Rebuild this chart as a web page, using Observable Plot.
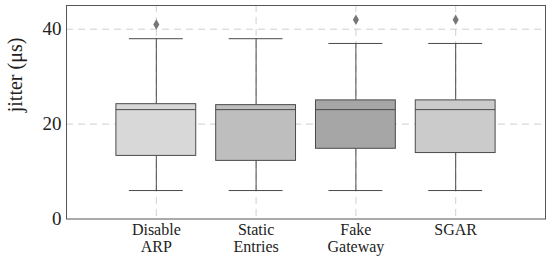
<!DOCTYPE html>
<html>
<head>
<meta charset="utf-8">
<script src="https://cdn.jsdelivr.net/npm/d3@7"></script>
<script src="https://cdn.jsdelivr.net/npm/@observablehq/plot@0.6"></script>
<style>
  html, body { margin: 0; padding: 0; background: #fff; }
  #chart svg { display: block; }
  #chart svg text { font-family: "Liberation Serif", "Times New Roman", serif; }
</style>
</head>
<body>
<div id="chart"></div>
<script>
const categories = ["Disable\nARP", "Static\nEntries", "Fake\nGateway", "SGAR"];
const positions = [1, 2, 3, 4];
const lowerWhisker = [6, 6, 6, 6];
const q1 = [13.3, 12.25, 14.8, 13.9];
const median = [23.05, 23.05, 23.05, 23.05];
const q3 = [24.2, 24.0, 25.0, 25.0];
const upperWhisker = [38, 38, 37, 37];
const outliers = [[41], [], [42], [42]];
const fills = ["#d8d8d8", "#bebebe", "#a6a6a6", "#cbcbcb"];
const yTicks = [0, 20, 40];

const boxes = positions.map((p, i) => ({
  pos: p, lo: lowerWhisker[i], q1: q1[i], med: median[i], q3: q3[i], hi: upperWhisker[i], fill: fills[i]
}));
const outs = positions.flatMap((p, i) => outliers[i].map(v => ({pos: p, v})));

const boxHalf = 0.4, capHalf = 0.27;
const stroke = "#4a4a4a";
const serif = "Liberation Serif";

const chart = Plot.plot({
  width: 550,
  height: 261,
  marginLeft: 66,
  marginRight: 5,
  marginTop: 5,
  marginBottom: 42.5,
  style: {fontFamily: serif, fontSize: "18px", color: "#222", background: "#fff"},
  x: {domain: [0.1, 4.9], axis: null},
  y: {domain: [0, 45]},
  marks: [
    Plot.ruleY(yTicks.filter(d => d > 0), {stroke: "#c4c4c4", strokeDasharray: "7,5", strokeWidth: 0.8}),
    Plot.ruleX(positions, {stroke: "#c4c4c4", strokeDasharray: "7,5", strokeWidth: 0.8}),
    Plot.ruleX(boxes, {x: "pos", y1: "lo", y2: "q1", stroke, strokeWidth: 1}),
    Plot.ruleX(boxes, {x: "pos", y1: "q3", y2: "hi", stroke, strokeWidth: 1}),
    Plot.ruleY(boxes, {y: "lo", x1: d => d.pos - capHalf, x2: d => d.pos + capHalf, stroke, strokeWidth: 1}),
    Plot.ruleY(boxes, {y: "hi", x1: d => d.pos - capHalf, x2: d => d.pos + capHalf, stroke, strokeWidth: 1}),
    Plot.rect(boxes, {x1: d => d.pos - boxHalf, x2: d => d.pos + boxHalf, y1: "q1", y2: "q3", fill: "fill", stroke, strokeWidth: 1}),
    Plot.ruleY(boxes, {y: "med", x1: d => d.pos - boxHalf, x2: d => d.pos + boxHalf, stroke, strokeWidth: 1}),
    Plot.dot(outs, {x: "pos", y: "v", symbol: "diamond", r: 3.2, fill: "#777", stroke: "none"}),
    Plot.frame({stroke: "#555", strokeWidth: 1}),
    Plot.axisY(yTicks, {tickSize: 0, tickPadding: 5, fontSize: 19, fontFamily: serif, label: null}),
    Plot.text(["jitter (μs)"], {frameAnchor: "left", dx: -51, rotate: -90, fontSize: 20, fontFamily: serif, fill: "#222"}),
    Plot.axisX(positions, {tickSize: 0, tickPadding: 3, fontSize: 16, fontFamily: serif, lineHeight: 1.1, tickFormat: (d, i) => categories[i], label: null})
  ]
});
document.getElementById("chart").appendChild(chart);
</script>
</body>
</html>
